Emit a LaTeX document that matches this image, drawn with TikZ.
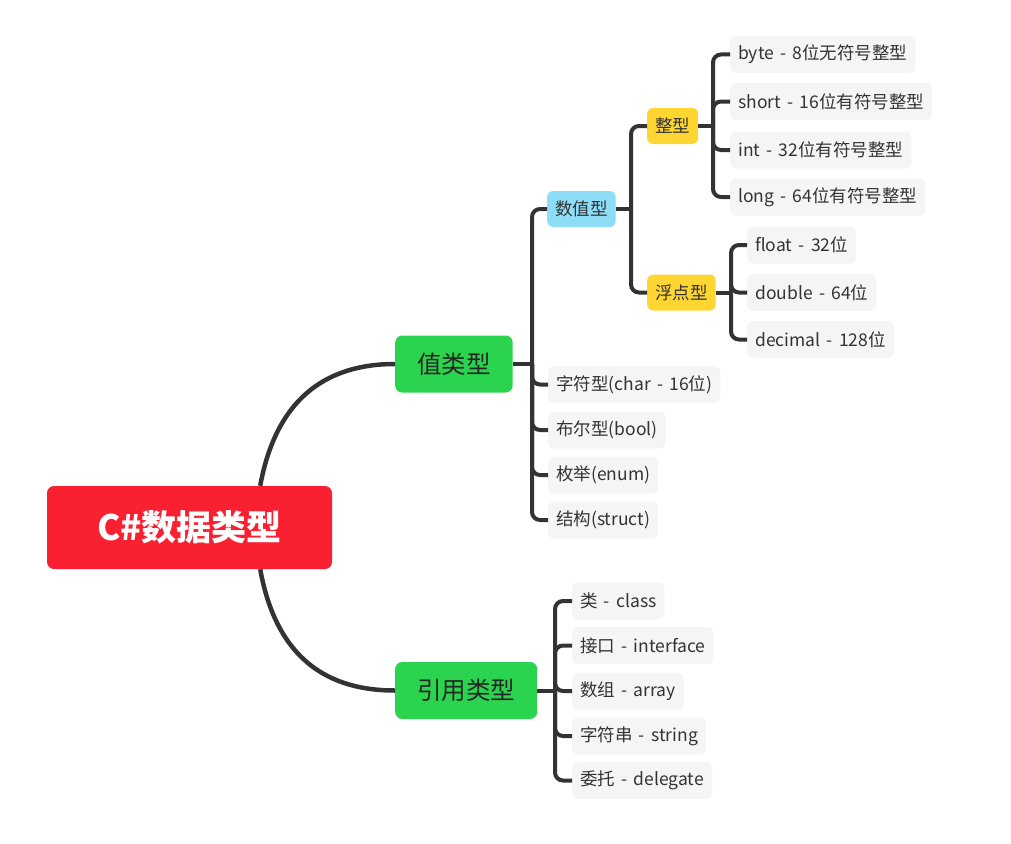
\documentclass[tikz,border=0pt]{standalone}
\usepackage{fontspec}
\setmainfont[WordSpace=1.6]{Noto Sans CJK SC}
\usetikzlibrary{positioning}
\definecolor{rootred}{RGB}{249,32,49}
\definecolor{maingreen}{RGB}{43,212,78}
\definecolor{subblue}{RGB}{142,221,247}
\definecolor{subyellow}{RGB}{253,214,50}
\definecolor{leafgray}{RGB}{245,245,245}
\definecolor{darktext}{RGB}{51,51,51}
\tikzset{
  conn/.style={draw=darktext, line width=4pt, rounded corners=8pt},
  leaf/.style={fill=leafgray, rounded corners=6pt, text=darktext, anchor=west,
    font=\fontsize{17.5}{20}\selectfont, minimum height=37pt, inner xsep=8pt},
  sub/.style={rounded corners=6pt, text=darktext, anchor=west,
    font=\fontsize{17.5}{20}\selectfont, minimum height=36pt, inner xsep=8pt},
  branch/.style={fill=maingreen, rounded corners=7pt, text=black!85, anchor=west,
    font=\fontsize{24.5}{28}\selectfont, minimum height=57pt, inner xsep=22pt}
}
\begin{document}
\begin{tikzpicture}[x=1pt, y=-1pt]
\useasboundingbox (0,0) rectangle (1011,843);
\node[fill=rootred, rounded corners=7pt, text=white, minimum width=285pt, minimum height=83pt,
  font=\fontsize{35}{40}\selectfont\bfseries] (root) at (189.5,527.5) {C\#数据类型};
\node[branch] (vt) at (395,364) {值类型};
\node[branch] (rt) at (395,690.5) {引用类型};

% value types
\node[sub, fill=subblue] (num) at (547,209) {数值型};
\node[sub, fill=subyellow] (int) at (647,126) {整型};
\node[sub, fill=subyellow] (flt) at (647,292.5) {浮点型};
\node[leaf] (byte) at (730,54.5) {byte - 8位无符号整型};
\node[leaf] (short) at (730,101.5) {short - 16位有符号整型};
\node[leaf] (int32) at (730,150) {int - 32位有符号整型};
\node[leaf] (long) at (730,197) {long - 64位有符号整型};
\node[leaf] (float) at (747,245) {float - 32位};
\node[leaf] (double) at (747,292.5) {double - 64位};
\node[leaf] (decimal) at (747,339.5) {decimal - 128位};
\node[leaf] (char) at (548,384.5) {字符型(char - 16位)};
\node[leaf] (bool) at (548,430) {布尔型(bool)};
\node[leaf] (enum) at (548,475) {枚举(enum)};
\node[leaf] (struct) at (548,520) {结构(struct)};

% reference types
\node[leaf] (class) at (572,601) {类 - class};
\node[leaf] (iface) at (572,645.5) {接口 - interface};
\node[leaf] (array) at (572,691) {数组 - array};
\node[leaf] (string) at (572,736) {字符串 - string};
\node[leaf] (deleg) at (572,780.5) {委托 - delegate};

% curves from root
\draw[darktext, line width=4.5pt] ([xshift=-72pt]root.north east) .. controls (275,405) and (320,364) .. (vt.west);
\draw[darktext, line width=4.5pt] ([xshift=-72pt]root.south east) .. controls (275,651) and (320,690.5) .. (rt.west);

% brackets
\coordinate (vtj) at (532,364);
\coordinate (numj) at (631,209);
\coordinate (intj) at (713,126);
\coordinate (fltj) at (731,292.5);
\coordinate (rtj) at (555,690.5);
\draw[conn] (vt.east) -- (vtj);
\foreach \c in {num,char,bool,enum,struct} \draw[conn] (vtj) |- (\c.west);
\draw[conn] (num.east) -- (numj);
\foreach \c in {int,flt} \draw[conn] (numj) |- (\c.west);
\draw[conn] (int.east) -- (intj);
\foreach \c in {byte,short,int32,long} \draw[conn] (intj) |- (\c.west);
\draw[conn] (flt.east) -- (fltj);
\foreach \c in {float,double,decimal} \draw[conn] (fltj) |- (\c.west);
\draw[conn] (rt.east) -- (rtj);
\foreach \c in {class,iface,array,string,deleg} \draw[conn] (rtj) |- (\c.west);
\end{tikzpicture}
\end{document}
